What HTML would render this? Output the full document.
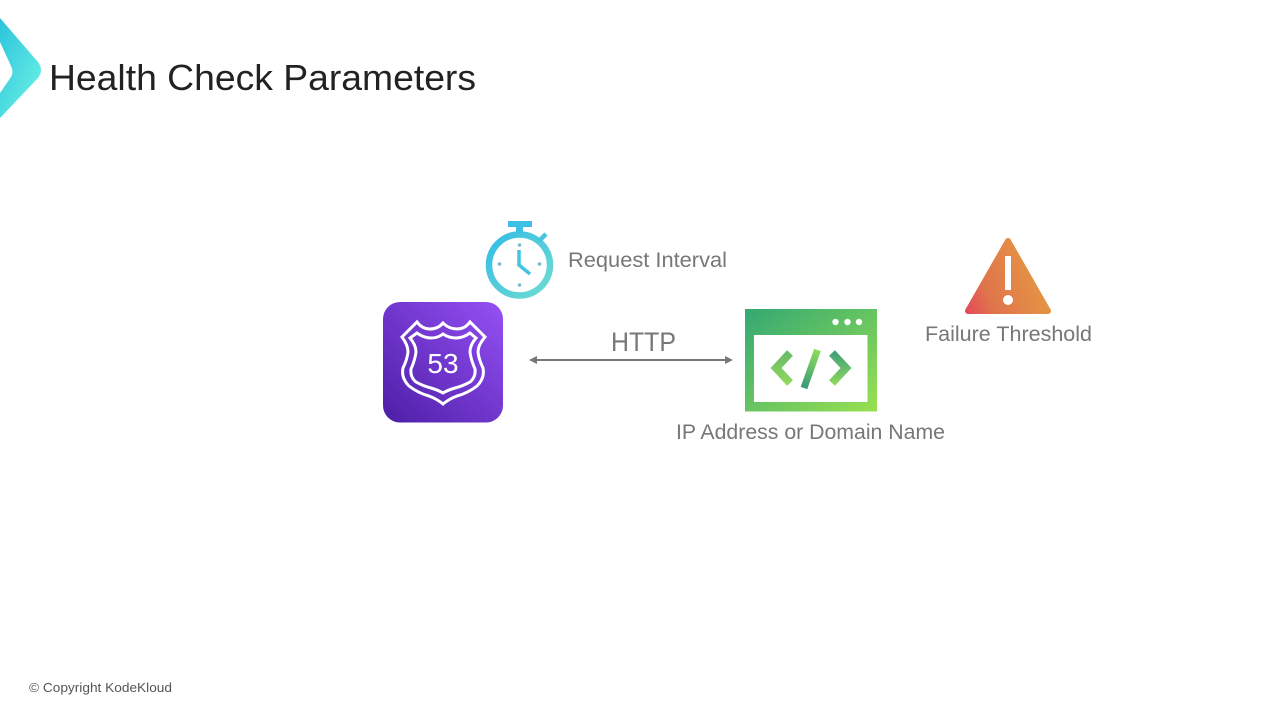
<!DOCTYPE html>
<html><head><meta charset="utf-8"><title>Health Check Parameters</title>
<style>html,body{margin:0;padding:0;background:#fff;width:1280px;height:720px;overflow:hidden}svg{display:block}text{font-family:"Liberation Sans",sans-serif}</style></head>
<body>
<svg width="1280" height="720" viewBox="0 0 1280 720" xmlns="http://www.w3.org/2000/svg">
<defs>
<linearGradient id="lg" x1="0" y1="0" x2="1" y2="1"><stop offset="0" stop-color="#2cc3dc"/><stop offset="1" stop-color="#6ff5e6"/></linearGradient>
<linearGradient id="pg" x1="0" y1="1" x2="1" y2="0"><stop offset="0" stop-color="#4d1ea6"/><stop offset="1" stop-color="#9550f5"/></linearGradient>
<linearGradient id="cg" x1="0" y1="0" x2="1" y2="1"><stop offset="0" stop-color="#35bde6"/><stop offset="1" stop-color="#6fdcd0"/></linearGradient>
<linearGradient id="gg" x1="0" y1="0" x2="1" y2="1"><stop offset="0" stop-color="#33a873"/><stop offset="1" stop-color="#99e050"/></linearGradient>
<linearGradient id="bl" gradientUnits="userSpaceOnUse" x1="790" y1="352" x2="790" y2="385"><stop offset="0" stop-color="#68bb68"/><stop offset="1" stop-color="#8fd95c"/></linearGradient>
<linearGradient id="br" gradientUnits="userSpaceOnUse" x1="832" y1="352" x2="832" y2="385"><stop offset="0" stop-color="#3f9f78"/><stop offset="1" stop-color="#8fd95c"/></linearGradient>
<linearGradient id="bs" gradientUnits="userSpaceOnUse" x1="818" y1="350" x2="804" y2="388"><stop offset="0" stop-color="#90dc5c"/><stop offset="1" stop-color="#389a78"/></linearGradient>
<linearGradient id="tg" gradientUnits="userSpaceOnUse" x1="965" y1="314" x2="1051" y2="280"><stop offset="0" stop-color="#e2475a"/><stop offset="0.3" stop-color="#e0744c"/><stop offset="1" stop-color="#e59a42"/></linearGradient>
</defs>
<rect width="1280" height="720" fill="#fff"/>
<path d="M0 18 L38 62 Q44 70 38 78 L0 118 L0 93 L11 77 Q14 72 11 66 L0 42 Z" fill="url(#lg)"/>
<text x="49" y="90" font-size="36" fill="#222" textLength="427" lengthAdjust="spacingAndGlyphs">Health Check Parameters</text>

<circle cx="519.500" cy="265" r="30.500" fill="#fff" stroke="url(#cg)" stroke-width="6.500"/>
<rect x="508" y="221" width="24" height="6" fill="#3cc0e4"/>
<rect x="516" y="226" width="7" height="7" fill="#3cc0e4"/>
<path d="M539 241 L546 234" stroke="#48c6de" stroke-width="4.500" fill="none"/>
<path d="M519 250 V265 L530 274" stroke="#42c4e0" stroke-width="3.500" fill="none"/>
<g fill="#7cb9cc"><circle cx="519.500" cy="245" r="1.800"/><circle cx="499.500" cy="264" r="1.800"/><circle cx="539.500" cy="264" r="1.800"/><circle cx="519.500" cy="285" r="1.800"/></g>
<text x="568" y="267" font-size="21" fill="#777" textLength="159" lengthAdjust="spacingAndGlyphs">Request Interval</text>

<rect x="383" y="302" width="120" height="120.500" rx="17" fill="url(#pg)"/>
<g fill="none" stroke="#fff" stroke-width="3" stroke-linejoin="miter">
<path d="M417 322 Q422 329 430 329 Q438 329 443 323 Q449 329 457 329 Q465 329 470 322 L485 337 Q478 345 478 352 Q479 360 483 368 Q485 378 477 386 Q468 393 457 396 Q449 399 443 404 Q437 399 429 396 Q418 393 409 386 Q401 378 403 368 Q407 360 408 352 Q408 345 402 337 Z"/>
<path d="M417 333 Q424 338 431 338 Q438 338 443 334 Q449 338 456 338 Q463 338 470 333 L476 338 Q470 345 470 352 Q471 360 475 369 Q476 377 470 382 Q463 386 455 388 Q448 390 443 393 Q438 390 431 388 Q423 386 416 382 Q410 377 411 369 Q415 360 416 352 Q416 345 410 338 Z"/>
</g>
<text x="443" y="373" font-size="28" fill="#fff" text-anchor="middle">53</text>

<path d="M535 360 H727" stroke="#777" stroke-width="2" fill="none"/>
<path d="M529 360 L537 356 V364 Z M733 360 L725 356 V364 Z" fill="#777"/>
<text x="611" y="351" font-size="27" fill="#777" textLength="65" lengthAdjust="spacingAndGlyphs">HTTP</text>

<rect x="745" y="309" width="132" height="102.500" fill="url(#gg)"/>
<rect x="754" y="335" width="113.500" height="67" fill="#fff"/>
<g fill="#fff"><circle cx="835.500" cy="322" r="3.200"/><circle cx="847.500" cy="322" r="3.200"/><circle cx="859" cy="322" r="3.200"/></g>
<path d="M790 353 L776 368 L790 383" fill="none" stroke="url(#bl)" stroke-width="8"/>
<path d="M832 353 L846 368 L832 383" fill="none" stroke="url(#br)" stroke-width="8"/>
<path d="M817.500 350 L804 388" fill="none" stroke="url(#bs)" stroke-width="7"/>
<text x="676" y="439" font-size="21" fill="#777" textLength="269" lengthAdjust="spacingAndGlyphs">IP Address or Domain Name</text>

<path d="M1008 241 L1048 311 H968 Z" fill="url(#tg)" stroke="url(#tg)" stroke-width="6" stroke-linejoin="round"/>
<rect x="1005" y="256" width="6" height="34" fill="#fff"/>
<circle cx="1008" cy="300" r="5" fill="#fff"/>
<text x="925" y="341" font-size="21" fill="#777" textLength="167" lengthAdjust="spacingAndGlyphs">Failure Threshold</text>

<text x="29" y="692" font-size="13" fill="#555" textLength="143" lengthAdjust="spacingAndGlyphs">© Copyright KodeKloud</text>
</svg>
</body></html>
